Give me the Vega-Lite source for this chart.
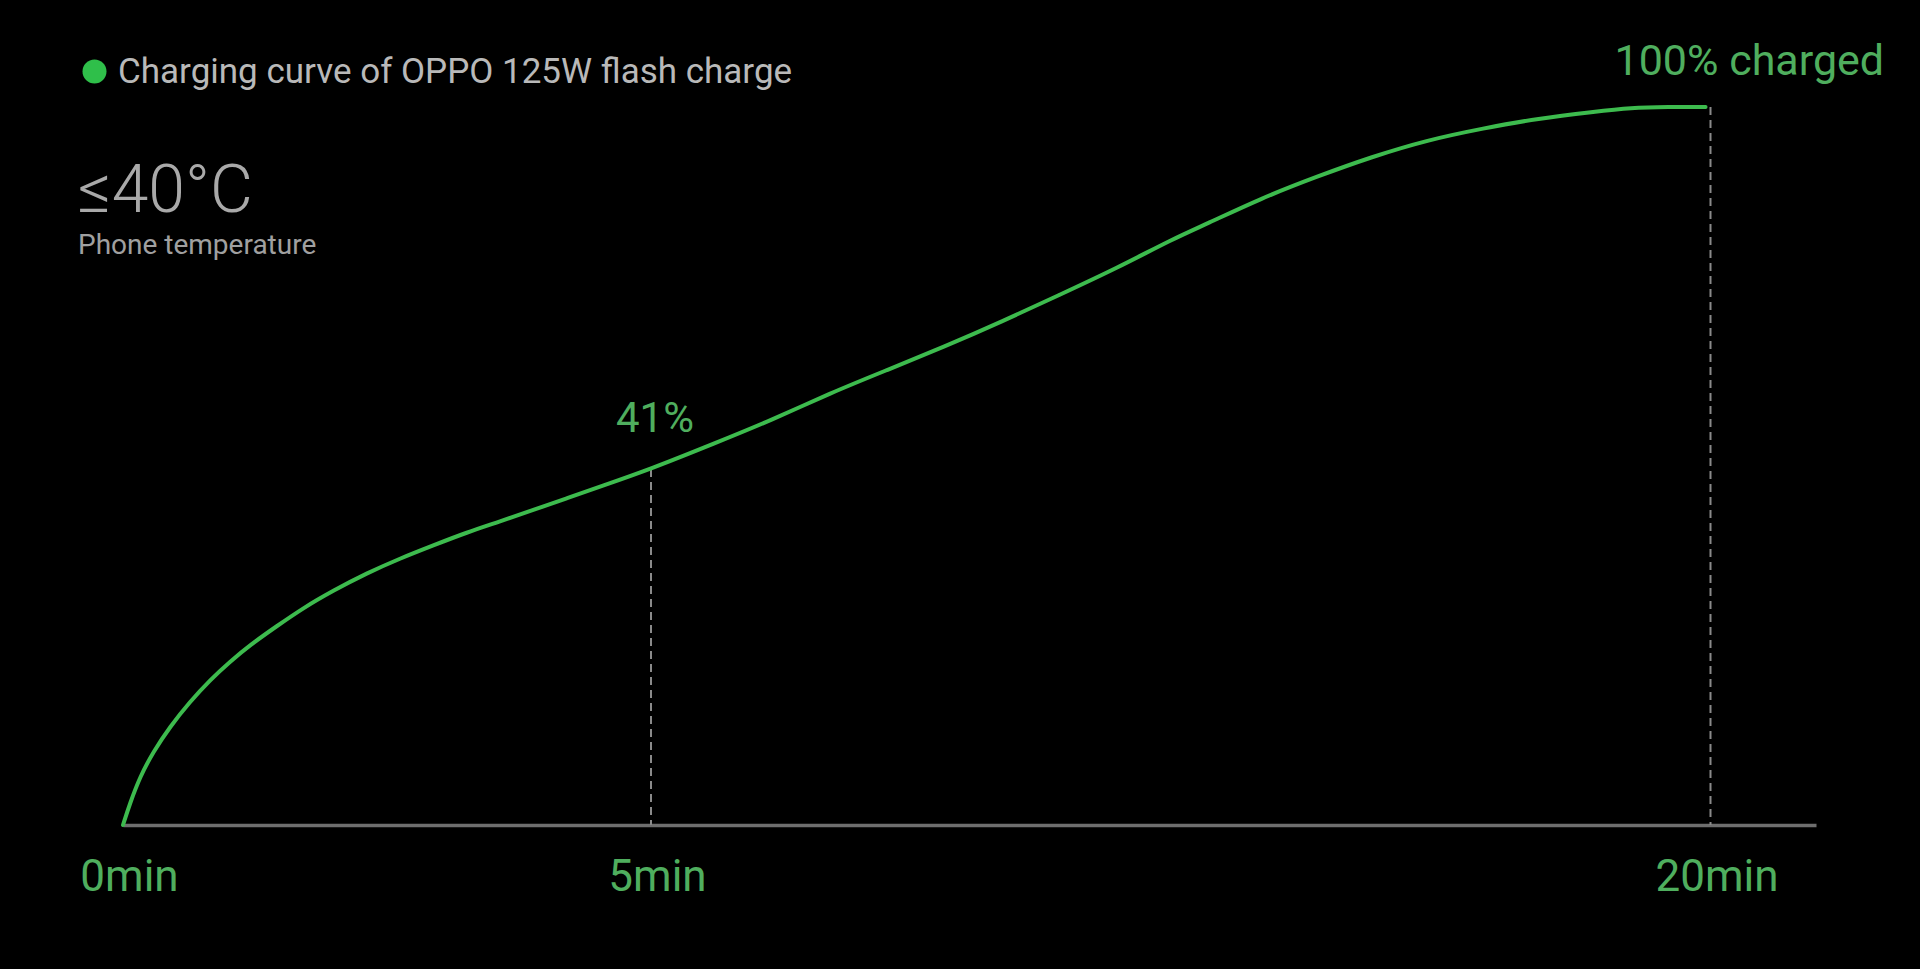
{
  "$schema": "https://vega.github.io/schema/vega-lite/v6.json",
  "width": 1920,
  "height": 969,
  "autosize": {"type": "none"},
  "padding": 0,
  "background": "#000000",
  "title": {
    "text": "≤40°C",
    "subtitle": "Phone temperature",
    "anchor": "start",
    "frame": "group",
    "orient": "top",
    "dx": 78,
    "dy": 261,
    "offset": 0,
    "font": "Roboto",
    "fontSize": 66,
    "fontWeight": 300,
    "color": "#a9a9a9",
    "subtitleFont": "Roboto",
    "subtitleFontSize": 28,
    "subtitleFontWeight": 400,
    "subtitleColor": "#a0a0a0",
    "subtitlePadding": 6
  },
  "datasets": {
    "curve": [
      {"t": 0, "p": 0},
      {"t": 0.066, "p": 2.5},
      {"t": 0.161, "p": 5.56},
      {"t": 0.287, "p": 8.44},
      {"t": 0.445, "p": 11.32},
      {"t": 0.634, "p": 14.2},
      {"t": 0.824, "p": 16.7},
      {"t": 1.013, "p": 18.81},
      {"t": 1.203, "p": 20.73},
      {"t": 1.456, "p": 22.9},
      {"t": 1.707, "p": 25.0},
      {"t": 1.991, "p": 27.0},
      {"t": 2.308, "p": 29.0},
      {"t": 2.623, "p": 30.7},
      {"t": 2.938, "p": 32.2},
      {"t": 3.255, "p": 33.7},
      {"t": 3.570, "p": 34.95},
      {"t": 3.885, "p": 36.28},
      {"t": 4.202, "p": 37.63},
      {"t": 4.517, "p": 38.96},
      {"t": 5, "p": 41},
      {"t": 5.903, "p": 45.19},
      {"t": 6.716, "p": 48.99},
      {"t": 7.529, "p": 53.34},
      {"t": 8.341, "p": 57.13},
      {"t": 9.154, "p": 60.93},
      {"t": 9.967, "p": 65.01},
      {"t": 10.779, "p": 69.36},
      {"t": 11.592, "p": 73.71},
      {"t": 12.405, "p": 78.6},
      {"t": 12.851, "p": 80.85},
      {"t": 13.637, "p": 85.12},
      {"t": 14.422, "p": 88.64},
      {"t": 15.208, "p": 91.9},
      {"t": 15.994, "p": 94.62},
      {"t": 16.780, "p": 96.52},
      {"t": 17.566, "p": 98.15},
      {"t": 18.351, "p": 99.23},
      {"t": 18.875, "p": 99.9},
      {"t": 19.399, "p": 100},
      {"t": 19.93, "p": 100}
    ],
    "annot": [
      {"t": 5, "p": 41, "label": "41%"},
      {"t": 20, "p": 100, "label": "100% charged"}
    ]
  },
  "encoding": {
    "x": {
      "field": "t",
      "type": "quantitative",
      "scale": {"domain": [0, 5, 20, 21.49], "range": [123, 651, 1710.5, 1816], "nice": false, "zero": false},
      "axis": {
        "orient": "bottom",
        "offset": -144,
        "values": [0, 5, 20],
        "labelExpr": "datum.value + 'min'",
        "title": null,
        "grid": false,
        "ticks": false,
        "domain": true,
        "domainColor": "#6e6e6e",
        "domainWidth": 3.5,
        "labelFont": "Roboto",
        "labelFontSize": 44,
        "labelFontWeight": 400,
        "labelColor": "#4fae5e",
        "labelBaseline": "alphabetic",
        "labelPadding": 65,
        "labelOffset": 6,
        "labelFlush": false,
        "labelOverlap": false
      }
    },
    "y": {
      "field": "p",
      "type": "quantitative",
      "scale": {"domain": [0, 41, 100], "range": [825, 469, 107], "nice": false, "zero": false},
      "axis": null
    }
  },
  "layer": [
    {
      "data": {"name": "annot"},
      "mark": {"type": "rule", "color": "#8a8a8a", "strokeWidth": 2, "strokeDash": [8, 5]},
      "encoding": {
        "y2": {"datum": 0}
      }
    },
    {
      "data": {"name": "curve"},
      "mark": {"type": "line", "strokeWidth": 4, "interpolate": "basis", "strokeCap": "round"},
      "encoding": {
        "color": {
          "datum": "Charging curve of OPPO 125W flash charge",
          "type": "nominal",
          "scale": {"range": ["#3dbb4e"]},
          "legend": {
            "orient": "none",
            "legendX": 77,
            "legendY": 54,
            "title": null,
            "padding": 0,
            "symbolType": "circle",
            "symbolSize": 576,
            "symbolFillColor": "#2fbf4a",
            "symbolStrokeWidth": 0,
            "labelFont": "Roboto",
            "labelFontSize": 35,
            "labelColor": "#b9b9b9",
            "labelOffset": 6,
            "labelLimit": 1000
          }
        }
      }
    },
    {
      "data": {"name": "annot"},
      "transform": [{"filter": "datum.label == '41%'"}],
      "mark": {"type": "text", "font": "Roboto", "fontSize": 42, "fontWeight": 400, "color": "#4fae5e", "align": "center", "baseline": "alphabetic", "dx": 4, "dy": -37},
      "encoding": {
        "text": {"field": "label"}
      }
    },
    {
      "data": {"name": "annot"},
      "transform": [{"filter": "datum.label == '100% charged'"}],
      "mark": {"type": "text", "font": "Roboto", "fontSize": 43, "fontWeight": 400, "color": "#4fae5e", "align": "left", "baseline": "alphabetic", "dx": -96, "dy": -32},
      "encoding": {
        "text": {"field": "label"}
      }
    }
  ],
  "config": {
    "view": {"stroke": null},
    "font": "Roboto"
  }
}
